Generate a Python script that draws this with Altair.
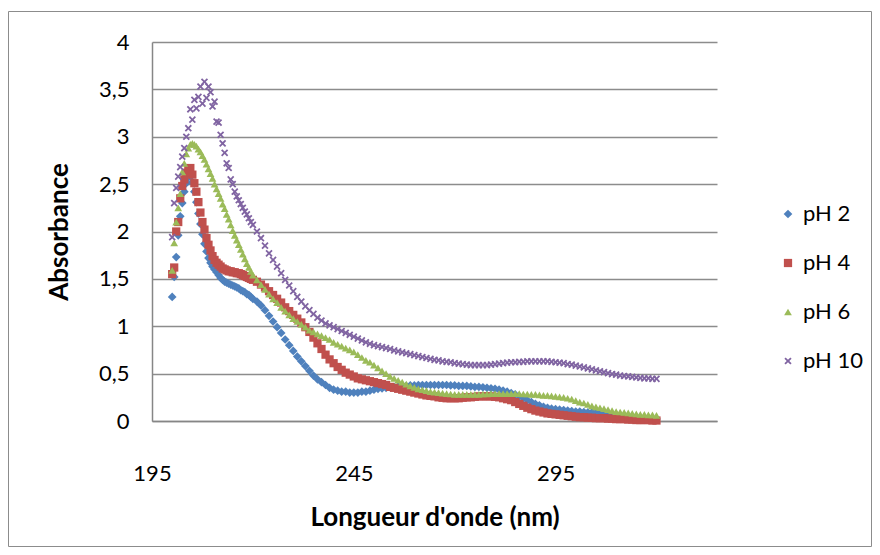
import altair as alt
import pandas as pd

SERIES = ["pH 2", "pH 4", "pH 6", "pH 10"]
COLORS = ["#4F81BD", "#C0504D", "#9BBB59", "#8064A2"]

# wavelength grid (nm)
WL_FINE = [200, 200.5, 201, 201.5, 202, 202.5, 203, 203.5, 204, 204.5,
           205, 205.5, 206, 206.5, 207, 207.5, 208, 208.5, 209, 209.5,
           210, 210.5, 211, 211.5, 212, 212.5, 213, 213.5, 214, 214.5,
           215, 215.5, 216, 216.5, 217, 217.5, 218, 218.5, 219, 219.5, 220]
WL_COARSE = [221, 222, 223, 224, 225, 226, 227, 228, 229, 230,
             231, 232, 233, 234, 235, 236, 237, 238, 239, 240,
             241, 242, 243, 244, 245, 246, 247, 248, 249, 250,
             251, 252, 253, 254, 255, 256, 257, 258, 259, 260,
             261, 262, 263, 264, 265, 266, 267, 268, 269, 270,
             271, 272, 273, 274, 275, 276, 277, 278, 279, 280,
             281, 282, 283, 284, 285, 286, 287, 288, 289, 290,
             291, 292, 293, 294, 295, 296, 297, 298, 299, 300,
             301, 302, 303, 304, 305, 306, 307, 308, 309, 310,
             311, 312, 313, 314, 315, 316, 317, 318, 319, 320]

PH2_FINE = [1.31, 1.52, 1.73, 1.96, 2.16, 2.30, 2.42, 2.51, 2.57, 2.58,
            2.52, 2.42, 2.31, 2.19, 2.08, 1.97, 1.87, 1.79, 1.72, 1.67,
            1.63, 1.60, 1.57, 1.54, 1.51, 1.49, 1.47, 1.46, 1.45, 1.44,
            1.43, 1.42, 1.41, 1.40, 1.38, 1.37, 1.36, 1.34, 1.33, 1.31, 1.29]
PH2_COARSE = [1.26, 1.22, 1.17, 1.11, 1.05, 0.99, 0.93, 0.86, 0.80, 0.74,
              0.68, 0.63, 0.58, 0.53, 0.48, 0.44, 0.41, 0.38, 0.35, 0.33,
              0.32, 0.31, 0.31, 0.30, 0.30, 0.30, 0.31, 0.31, 0.32, 0.33,
              0.34, 0.345, 0.35, 0.355, 0.36, 0.365, 0.37, 0.37, 0.375, 0.375,
              0.38, 0.38, 0.38, 0.38, 0.38, 0.38, 0.38, 0.38, 0.375, 0.375,
              0.37, 0.37, 0.37, 0.365, 0.36, 0.36, 0.355, 0.35, 0.345, 0.34,
              0.33, 0.32, 0.31, 0.295, 0.28, 0.26, 0.24, 0.22, 0.20, 0.18,
              0.165, 0.15, 0.14, 0.13, 0.125, 0.12, 0.115, 0.11, 0.105, 0.10,
              0.10, 0.095, 0.09, 0.09, 0.085, 0.08, 0.075, 0.07, 0.065, 0.06,
              0.055, 0.05, 0.045, 0.04, 0.04, 0.035, 0.03, 0.03, 0.025, 0.02]

PH4_FINE = [1.55, 1.62, 2.00, 2.10, 2.35, 2.48, 2.55, 2.62, 2.66, 2.67,
            2.60, 2.51, 2.42, 2.31, 2.20, 2.10, 2.02, 1.93, 1.86, 1.80,
            1.74, 1.70, 1.67, 1.65, 1.63, 1.61, 1.60, 1.59, 1.58, 1.58,
            1.57, 1.57, 1.56, 1.56, 1.55, 1.54, 1.53, 1.52, 1.51, 1.50, 1.49]
PH4_COARSE = [1.47, 1.44, 1.41, 1.37, 1.33, 1.29, 1.25, 1.20, 1.16, 1.12,
              1.08, 1.04, 0.99, 0.94, 0.88, 0.82, 0.76, 0.70, 0.65, 0.61,
              0.57, 0.54, 0.51, 0.49, 0.47, 0.45, 0.44, 0.43, 0.42, 0.41,
              0.40, 0.39, 0.38, 0.36, 0.35, 0.34, 0.33, 0.32, 0.31, 0.30,
              0.29, 0.28, 0.27, 0.265, 0.26, 0.25, 0.245, 0.24, 0.24, 0.24,
              0.24, 0.245, 0.25, 0.25, 0.255, 0.26, 0.26, 0.26, 0.26, 0.255,
              0.25, 0.24, 0.23, 0.22, 0.20, 0.18, 0.16, 0.14, 0.125, 0.11,
              0.10, 0.09, 0.08, 0.075, 0.07, 0.065, 0.06, 0.055, 0.05, 0.045,
              0.04, 0.04, 0.035, 0.035, 0.03, 0.03, 0.03, 0.025, 0.025, 0.02,
              0.02, 0.02, 0.015, 0.015, 0.01, 0.01, 0.01, 0.01, 0.005, 0.005]

PH6_FINE = [1.59, 1.88, 2.10, 2.25, 2.40, 2.63, 2.72, 2.82, 2.88, 2.92,
            2.93, 2.92, 2.90, 2.87, 2.84, 2.80, 2.76, 2.71, 2.66, 2.61,
            2.56, 2.50, 2.45, 2.40, 2.35, 2.29, 2.24, 2.18, 2.13, 2.07,
            2.01, 1.96, 1.91, 1.86, 1.81, 1.76, 1.71, 1.66, 1.62, 1.58, 1.54]
PH6_COARSE = [1.49, 1.44, 1.39, 1.34, 1.29, 1.25, 1.20, 1.16, 1.12, 1.08,
              1.05, 1.02, 0.99, 0.96, 0.94, 0.92, 0.90, 0.88, 0.86, 0.83,
              0.81, 0.79, 0.77, 0.75, 0.73, 0.70, 0.67, 0.64, 0.62, 0.59,
              0.56, 0.53, 0.50, 0.47, 0.45, 0.43, 0.41, 0.39, 0.37, 0.355,
              0.34, 0.33, 0.32, 0.31, 0.305, 0.30, 0.295, 0.29, 0.285, 0.28,
              0.28, 0.28, 0.28, 0.28, 0.28, 0.28, 0.285, 0.285, 0.29, 0.29,
              0.29, 0.29, 0.29, 0.29, 0.29, 0.29, 0.285, 0.285, 0.28, 0.28,
              0.275, 0.27, 0.27, 0.265, 0.26, 0.255, 0.25, 0.24, 0.23, 0.215,
              0.20, 0.19, 0.175, 0.16, 0.15, 0.14, 0.13, 0.12, 0.11, 0.10,
              0.095, 0.09, 0.085, 0.08, 0.075, 0.07, 0.07, 0.065, 0.065, 0.06]

PH10_FINE = [1.94, 2.30, 2.46, 2.58, 2.68, 2.79, 2.88, 3.00, 3.09, 3.29,
             3.18, 3.39, 3.30, 3.42, 3.53, 3.35, 3.58, 3.41, 3.53, 3.47,
             3.32, 3.37, 3.16, 3.15, 3.02, 2.93, 2.83, 2.72, 2.67, 2.55,
             2.50, 2.42, 2.37, 2.33, 2.29, 2.25, 2.21, 2.18, 2.14, 2.10, 2.07]
PH10_COARSE = [2.00, 1.93, 1.85, 1.77, 1.70, 1.63, 1.56, 1.49, 1.43, 1.37,
               1.31, 1.26, 1.21, 1.17, 1.13, 1.09, 1.06, 1.03, 1.01, 0.99,
               0.97, 0.95, 0.93, 0.91, 0.89, 0.87, 0.85, 0.83, 0.815, 0.80,
               0.79, 0.78, 0.77, 0.76, 0.745, 0.735, 0.725, 0.715, 0.705, 0.695,
               0.685, 0.675, 0.665, 0.655, 0.645, 0.64, 0.63, 0.625, 0.62, 0.61,
               0.605, 0.60, 0.595, 0.59, 0.59, 0.59, 0.59, 0.59, 0.595, 0.60,
               0.605, 0.61, 0.615, 0.62, 0.62, 0.625, 0.625, 0.63, 0.63, 0.63,
               0.63, 0.63, 0.63, 0.625, 0.62, 0.615, 0.61, 0.60, 0.595, 0.585,
               0.575, 0.565, 0.555, 0.545, 0.535, 0.525, 0.515, 0.505, 0.495, 0.49,
               0.48, 0.475, 0.47, 0.465, 0.46, 0.455, 0.45, 0.45, 0.445, 0.445]

X_TICKS = [195, 245, 295]
Y_TICKS = [0, 0.5, 1, 1.5, 2, 2.5, 3, 3.5, 4]

WAVELENGTH = WL_FINE + WL_COARSE
VALUES = {
    "pH 2": PH2_FINE + PH2_COARSE,
    "pH 4": PH4_FINE + PH4_COARSE,
    "pH 6": PH6_FINE + PH6_COARSE,
    "pH 10": PH10_FINE + PH10_COARSE,
}

rows = []
for s in SERIES:
    for w, a in zip(WAVELENGTH, VALUES[s]):
        rows.append({"wl": w, "abs": a, "serie": s})
df = pd.DataFrame(rows)

X_PATH = ("M0,-0.35L0.65,-1L1,-0.65L0.35,0L1,0.65L0.65,1L0,0.35L-0.65,1"
          "L-1,0.65L-0.35,0L-1,-0.65L-0.65,-1Z")
SHAPES = ["diamond", "square", "triangle-up", X_PATH]

FONT = "Lato"

legend = alt.Legend(
    title=None, orient="none", legendX=625, legendY=161,
    labelFont=FONT, labelFontSize=22, labelColor="black",
    symbolSize=40, symbolStrokeWidth=0, rowPadding=27, labelOffset=4,
    padding=0,
)

points = alt.Chart(df).mark_point(filled=True, opacity=1, strokeWidth=0).encode(
    x=alt.X("wl:Q",
            scale=alt.Scale(domain=[195, 335], nice=False, zero=False),
            axis=alt.Axis(values=X_TICKS, title="Longueur d'onde (nm)", grid=False,
                          ticks=False, labelFlush=False, labelPadding=42,
                          titlePadding=20)),
    y=alt.Y("abs:Q",
            scale=alt.Scale(domain=[0, 4], nice=False),
            axis=alt.Axis(values=Y_TICKS, title="Absorbance", grid=True, ticks=False,
                          labelFlush=False,
                          labelExpr="replace(format(datum.value, '~g'), '.', ',')",
                          labelPadding=23, titlePadding=26)),
    color=alt.Color("serie:N", scale=alt.Scale(domain=SERIES, range=COLORS), legend=legend),
    shape=alt.Shape("serie:N", scale=alt.Scale(domain=SERIES, range=SHAPES), legend=legend),
    size=alt.Size("serie:N", scale=alt.Scale(domain=SERIES, range=[76, 52, 66, 54]), legend=None),
)

frame = alt.Chart(pd.DataFrame({"k": [0]})).mark_rect(
    fillOpacity=0, stroke="#8c8c8c", strokeWidth=1, clip=False
).encode(
    x=alt.value(-143.5), x2=alt.value(719.5), y=alt.value(-30.5), y2=alt.value(504.5)
)

chart = alt.layer(frame, points).properties(
    width=565, height=379,
    padding={"left": 144, "top": 34, "right": 155, "bottom": 126},
    autosize=alt.AutoSizeParams(type="none"),
    background="white",
).configure_view(strokeWidth=0).configure_axis(
    labelFont=FONT, labelFontSize=22, labelColor="black",
    titleFont=FONT, titleFontSize=26, titleFontWeight="bold", titleColor="black",
    domainColor="#868686", domainWidth=1.5, gridColor="#8c8c8c", gridWidth=1.5,
)

chart.save("out.html", embed_options={"renderer": "svg", "actions": False})
